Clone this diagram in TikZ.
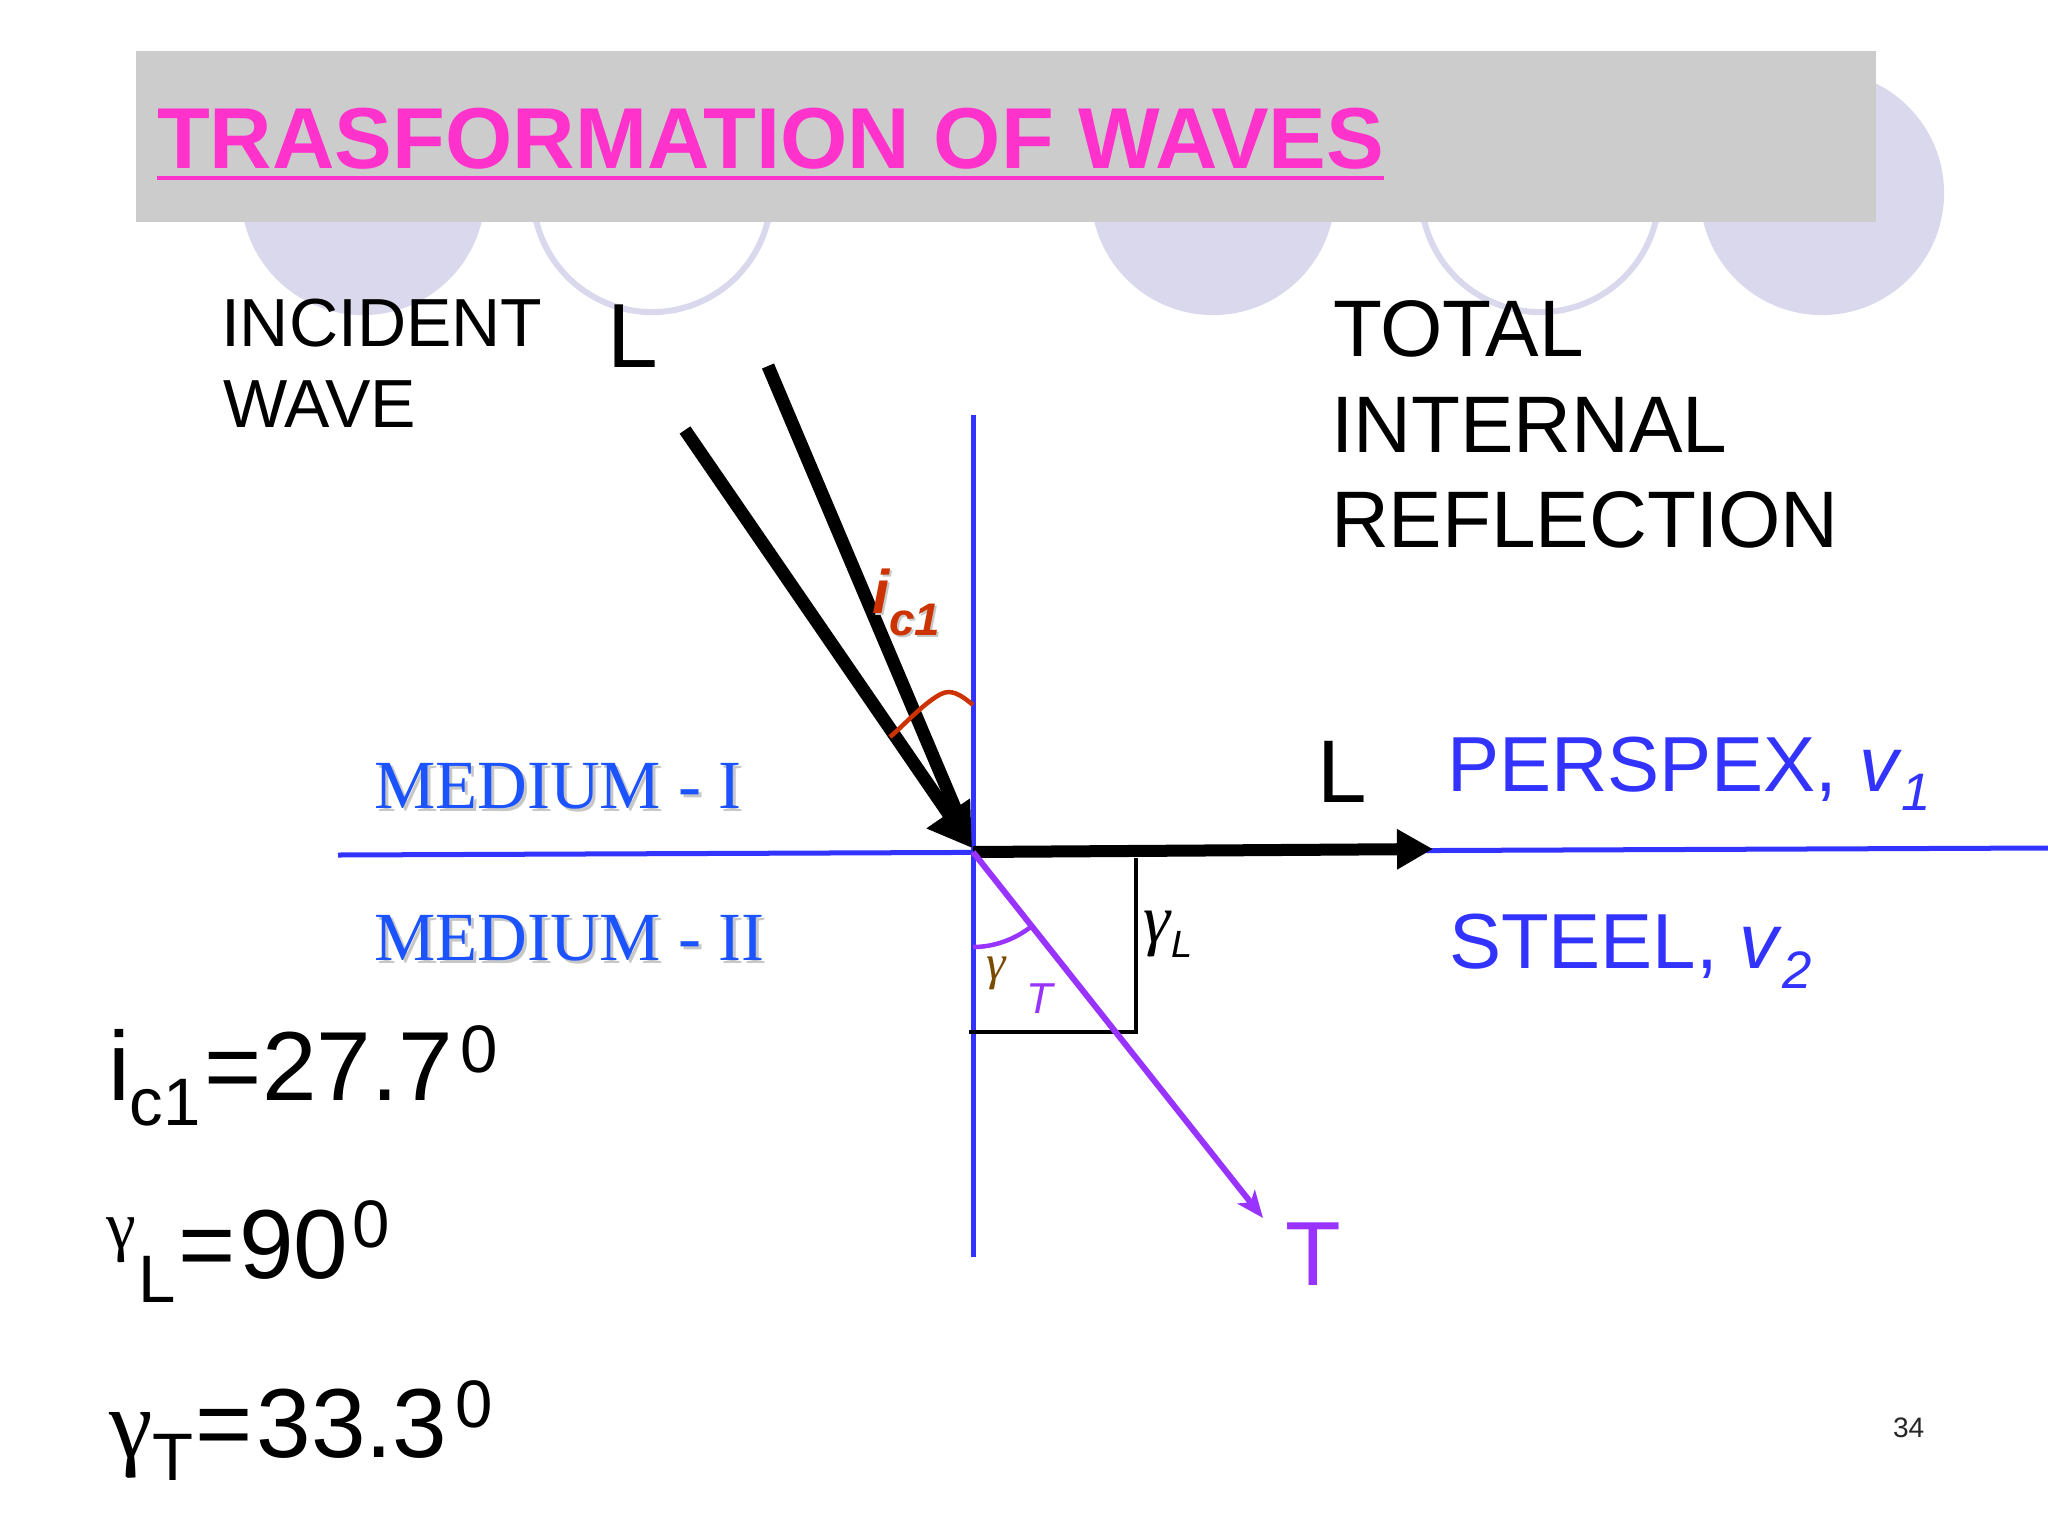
\documentclass[tikz,border=0pt]{standalone}
\usepackage{fontspec}
\setmainfont{Liberation Sans}
\newfontfamily\serifLS{Liberation Serif}
\usetikzlibrary{arrows.meta}
\newdimen\pxu \pxu=0.01cm
\newcommand\setfs[1]{\fontsize{#1}{#1}\selectfont}
\definecolor{greyband}{RGB}{204,204,204}
\definecolor{lav}{RGB}{218,216,236}
\definecolor{titlemag}{RGB}{255,51,204}
\definecolor{lineblue}{RGB}{51,51,255}
\definecolor{medblue}{RGB}{26,83,255}
\definecolor{icred}{RGB}{204,51,0}
\definecolor{tpurple}{RGB}{153,51,255}
\definecolor{gbrown}{RGB}{122,74,0}
\begin{document}
\begin{tikzpicture}[x=0.01cm,y=-0.01cm,
  txt/.style={anchor=base west, inner sep=0, outer sep=0},
  bluerule/.style={draw=lineblue, line width=0.05cm},
  ray/.style={draw=black, line width=0.13cm},
  disc/.style={fill=lav},
  ring/.style={draw=lav, line width=0.06cm},
  shadowtxt/.style={txt, text=black!22}]
\fill[white] (0,0) rectangle (2048,1536);
\useasboundingbox (0,0) rectangle (2048,1536);
% decorative circles
\fill[disc] (363,193) circle[radius=1.22cm];
\draw[ring] (652,193) circle[radius=1.19cm];
\fill[disc] (1213,193) circle[radius=1.22cm];
\draw[ring] (1540,193) circle[radius=1.19cm];
\fill[disc] (1822,193) circle[radius=1.22cm];
% title band
\fill[greyband] (136,51) rectangle (1876,222);
\node[txt, font=\setfs{24.6}\bfseries, text=titlemag] (title) at (157,168) {TRASFORMATION OF WAVES};
\draw[titlemag, line width=0.04cm] ([yshift=-0.1cm]title.base west) -- ([yshift=-0.1cm]title.base east);
% coordinates
\coordinate (O) at (973,852);
\coordinate (tip) at (972,848);
\coordinate (incA) at (685,430);
\coordinate (incB) at (768,366);
\coordinate (Lend) at (1433,849);
\coordinate (Tend) at (1263,1218);
\coordinate (vtop) at (973,415);
\coordinate (vbot) at (973,1257);
\coordinate (hleft) at (338,855);
\coordinate (hright) at (2048,848);
\coordinate (r1) at (969,1032);
\coordinate (r2) at (1136,1032);
\coordinate (r3) at (1136,858);
% interface lines
\draw[bluerule] (vtop) -- (vbot);
\draw[bluerule] (hleft) -- (hright);
% rectangle (gamma_L = 90)
\draw[black, line width=0.04cm] (r1) -- (r2) -- (r3);
% incident rays
\draw[ray, shorten >=0.3cm] (incB) -- (tip);
\draw[ray, -{Triangle[length=0.42cm, width=0.5cm]}] (incA) -- (tip);
% reflected L
\draw[ray, line width=0.12cm, -{Triangle[length=0.36cm, width=0.38cm]}] (O) -- (Lend);
% transmitted T
\draw[tpurple, line width=0.06cm, -{Stealth[length=0.27cm, width=0.22cm, inset=0.07cm]}] (O) -- (Tend);
% angle arcs
\draw[icred, line width=0.045cm] (973,705) .. controls (960,694) and (951,689) .. (941,694) .. controls (925,702) and (905,724) .. (890,737);
\draw[tpurple, line width=0.045cm] (973,947) .. controls (994.5,947) and (1015,939.4) .. (1032,926);
% labels
\node[txt, font=\setfs{19.35}] (inc1) at (221,346) {INCIDENT};
\node[txt, font=\setfs{19.35}] (inc2) at (223,427) {WAVE};
\node[txt, font=\setfs{25.9}] (Ltop) at (607,367) {L};
\node[txt, font=\setfs{22.8}] (tir1) at (1333,356) {TOTAL};
\node[txt, font=\setfs{22.8}] (tir2) at (1331,452) {INTERNAL};
\node[txt, font=\setfs{22.8}] (tir3) at (1331,547) {REFLECTION};
\node[txt, font=\setfs{25.3}] (Lright) at (1317,802) {L};
\node[txt, font=\setfs{22.2}, text=lineblue] (persp) at (1447,791) {PERSPEX, \textit{v}\raisebox{-19\pxu}{\setfs{15}\textit{1}}};
\node[txt, font=\setfs{22.2}, text=lineblue] (steel) at (1449,968) {STEEL, \textit{v}\raisebox{-20\pxu}{\setfs{15}\textit{2}}};
\node[shadowtxt, font=\serifLS\setfs{19.6}] (med1s) at (377,811) {MEDIUM - I};
\node[txt, font=\serifLS\setfs{19.6}, text=medblue] (med1) at (374,808) {MEDIUM - I};
\node[shadowtxt, font=\serifLS\setfs{19.6}] (med2s) at (377,963) {MEDIUM - II};
\node[txt, font=\serifLS\setfs{19.6}, text=medblue] (med2) at (374,960) {MEDIUM - II};
\node[shadowtxt, font=\setfs{17.5}\bfseries\itshape] (ics) at (874,615) {i\raisebox{-22\pxu}{\setfs{13}c1}};
\node[txt, font=\setfs{17.5}\bfseries\itshape, text=icred] (ic) at (872,613) {i\raisebox{-22\pxu}{\setfs{13}c1}};
\node[txt, font=\serifLS\itshape\setfs{19.5}] (gL1) at (1143,942) {γ};
\node[txt, font=\setfs{10.8}\itshape] (gL2) at (1171,957) {L};
\node[txt, font=\serifLS\itshape\setfs{14}, text=gbrown] (gT1) at (986,979) {γ};
\node[txt, font=\setfs{12.3}\itshape, text=tpurple] (gT2) at (1026,1013) {T};
\node[txt, font=\setfs{25.9}, text=tpurple] (Tlab) at (1285,1285) {T};
% equations
\node[txt, font=\setfs{27.9}] (eq1) at (108,1100) {i\raisebox{-25\pxu}{\setfs{19.1}c1}\kern4\pxu=27.7\kern8\pxu\raisebox{28\pxu}{\setfs{19.1}0}};
\node[txt, font=\setfs{27.9}] (eq2) at (106,1278) {\raisebox{30\pxu}{\serifLS\setfs{19.1}γ}\kern3\pxu\raisebox{-24\pxu}{\setfs{19.1}L}\kern2\pxu=\kern4\pxu 90\kern4\pxu\raisebox{31\pxu}{\setfs{19.1}0}};
\node[txt, font=\setfs{27.9}] (eq3) at (109,1457) {{\serifLS γ}\raisebox{-23\pxu}{\setfs{19.1}T}\kern2\pxu=\kern4\pxu 33.3\kern8\pxu\raisebox{30\pxu}{\setfs{19.1}0}};
\node[txt, font=\setfs{8}, text=black!85] (pg) at (1893,1437) {34};
\end{tikzpicture}
\end{document}
